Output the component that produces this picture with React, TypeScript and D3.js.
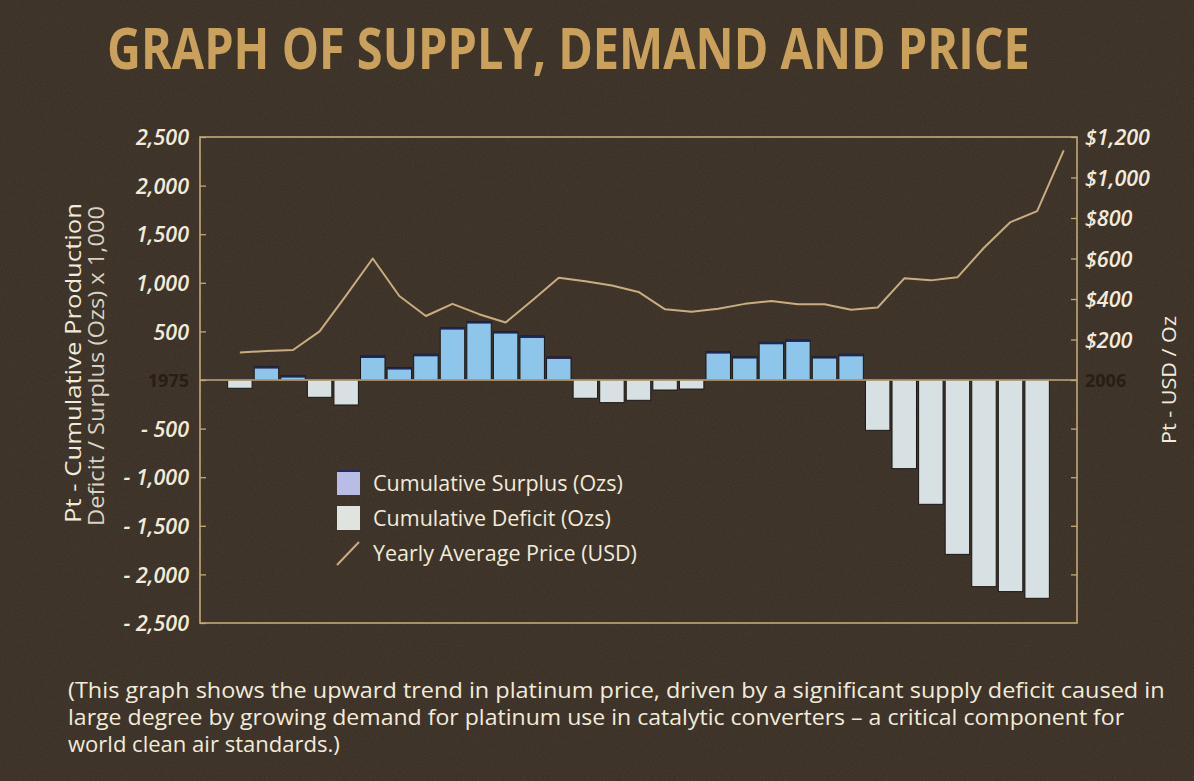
import { useEffect, useRef } from "react";
import * as d3 from "d3";

// years on the price line (bars stop one year earlier)
const years = [
  1975, 1976, 1977, 1978, 1979, 1980, 1981, 1982, 1983, 1984, 1985, 1986, 1987, 1988, 1989, 1990,
  1991, 1992, 1993, 1994, 1995, 1996, 1997, 1998, 1999, 2000, 2001, 2002, 2003, 2004, 2005, 2006,
];
const barYears = years.slice(0, 31);

// cumulative surplus (+) / deficit (-), ozs x 1,000
const balance = [
  -85, 138, 45, -178, -257, 247, 128, 264, 539, 601, 498, 453, 237, -188, -233, -209,
  -103, -93, 292, 241, 388, 412, 241, 264, -518, -912, -1279, -1794, -2126, -2177, -2246,
];

// yearly average price, USD / oz
const price = [
  136, 143, 148, 240, 418, 600, 415, 316, 376, 325, 284, 393, 505, 488, 467, 435,
  349, 337, 352, 376, 390, 374, 374, 347, 358, 502, 492, 507, 653, 780, 834, 1134,
];

const leftTicks = [2500, 2000, 1500, 1000, 500, 0, -500, -1000, -1500, -2000, -2500];
const priceTicks = [1200, 1000, 800, 600, 400, 200, 0];
const rightLowTicks = [-500, -1000, -1500, -2000];

const legendLabels = [
  "Cumulative Surplus (Ozs)",
  "Cumulative Deficit (Ozs)",
  "Yearly Average Price (USD)",
];

const captionLines = [
  "(This graph shows the upward trend in platinum price, driven by a significant supply deficit caused in",
  "large degree by growing demand for platinum use in catalytic converters \u2013 a critical component for",
  "world clean air standards.)",
];

const W = 1194;
const H = 781;
const box = { left: 200, right: 1077, top: 137, bottom: 623 };

const BG = "#392e23";
const FRAME = "#c4a878";
const CREAM = "#f2ebda";
const FONT = "'Open Sans', 'Noto Sans', sans-serif";

// squeeze a text horizontally to a given width without touching its height
function fitWidth(sel: d3.Selection<SVGTextElement, unknown, null, undefined>, x: number, y: number, w: number) {
  const n = sel.node()!.getComputedTextLength();
  sel.attr("x", 0).attr("y", 0).attr("transform", `translate(${x},${y}) scale(${w / n},1)`);
}

export default function App() {
  const ref = useRef<SVGSVGElement>(null);

  useEffect(() => {
    document.body.style.margin = "0";
    document.body.style.background = BG;

    const svg = d3.select(ref.current);
    svg.selectAll("*").remove();

    // paper grain
    const defs = svg.append("defs");
    const grain = defs
      .append("filter")
      .attr("id", "grain")
      .attr("x", 0)
      .attr("y", 0)
      .attr("width", "100%")
      .attr("height", "100%");
    grain
      .append("feTurbulence")
      .attr("type", "fractalNoise")
      .attr("baseFrequency", 0.9)
      .attr("numOctaves", 2)
      .attr("seed", 4);
    grain.append("feColorMatrix").attr("type", "saturate").attr("values", 0);

    svg.append("rect").attr("width", W).attr("height", H).attr("fill", BG);
    svg
      .append("rect")
      .attr("width", W)
      .attr("height", H)
      .attr("filter", "url(#grain)")
      .attr("opacity", 0.09);

    // scales
    const step = (box.right - box.left) / 33;
    const x = d3
      .scaleBand<number>()
      .domain(years)
      .range([box.left + step, box.right])
      .paddingInner(0.08)
      .paddingOuter(0.04);
    const bw = x.bandwidth();
    const y = d3.scaleLinear().domain([-2500, 2500]).range([box.bottom, box.top]);
    const yP = d3.scaleLinear().domain([0, 1200]).range([y(0), box.top]);

    // bars
    const bars = barYears.map((yr, i) => ({ yr, v: balance[i] }));
    const g = svg.append("g");
    g.selectAll("rect.bar")
      .data(bars)
      .join("rect")
      .attr("class", "bar")
      .attr("x", (d) => x(d.yr)!)
      .attr("width", bw)
      .attr("y", (d) => y(Math.max(0, d.v)))
      .attr("height", (d) => Math.abs(y(d.v) - y(0)))
      .attr("fill", (d) => (d.v >= 0 ? "#8ec5ea" : "#d7e0e2"))
      .attr("stroke", "#1c1714")
      .attr("stroke-width", 1);

    g.selectAll("line.cap")
      .data(bars.filter((d) => d.v > 0))
      .join("line")
      .attr("class", "cap")
      .attr("x1", (d) => x(d.yr)!)
      .attr("x2", (d) => x(d.yr)! + bw)
      .attr("y1", (d) => y(d.v) + 1)
      .attr("y2", (d) => y(d.v) + 1)
      .attr("stroke", "#1d2656")
      .attr("stroke-width", 2);

    // frame + zero line
    svg
      .append("rect")
      .attr("x", box.left)
      .attr("y", box.top)
      .attr("width", box.right - box.left)
      .attr("height", box.bottom - box.top)
      .attr("fill", "none")
      .attr("stroke", FRAME)
      .attr("stroke-width", 1.6);
    svg
      .append("line")
      .attr("x1", box.left)
      .attr("x2", box.right)
      .attr("y1", y(0))
      .attr("y2", y(0))
      .attr("stroke", FRAME)
      .attr("stroke-width", 1.6);

    // price line
    const line = d3
      .line<number>()
      .x((_, i) => x(years[i])! + bw / 2)
      .y((d) => yP(d));
    svg
      .append("path")
      .datum(price)
      .attr("d", line)
      .attr("fill", "none")
      .attr("stroke", "#c9ad80")
      .attr("stroke-width", 2)
      .attr("stroke-linejoin", "round");

    // axes
    const fmt = d3.format(",");
    const left = svg
      .append("g")
      .attr("transform", `translate(${box.left},0)`)
      .call(
        d3
          .axisLeft(y)
          .tickValues(leftTicks)
          .tickSizeInner(-6)
          .tickSizeOuter(0)
          .tickPadding(11)
          .tickFormat((d) => {
            const v = +d;
            if (v === 0) return "1975";
            return v < 0 ? "- " + fmt(-v) : fmt(v);
          })
      );
    const right = svg
      .append("g")
      .attr("transform", `translate(${box.right},0)`)
      .call(
        d3
          .axisRight(yP)
          .tickValues(priceTicks)
          .tickSizeInner(-6)
          .tickSizeOuter(0)
          .tickPadding(8)
          .tickFormat((d) => (+d === 0 ? "2006" : "$" + fmt(+d)))
      );
    const rightLow = svg
      .append("g")
      .attr("transform", `translate(${box.right},0)`)
      .call(d3.axisRight(y).tickValues(rightLowTicks).tickSizeInner(-6).tickSizeOuter(0).tickFormat(() => ""));

    [left, right, rightLow].forEach((a) => {
      a.select(".domain").remove();
      a.selectAll(".tick line").attr("stroke", FRAME).attr("stroke-width", 1.3);
      a.selectAll(".tick text")
        .attr("fill", CREAM)
        .attr("font-family", FONT)
        .attr("font-size", 21.5)
        .attr("font-style", "italic")
        .attr("font-weight", 600)
        .attr("dy", "0.36em");
    });
    [left, right].forEach((a) => {
      a.selectAll<SVGGElement, number>(".tick")
        .filter((d) => +d === 0)
        .select("text")
        .attr("fill", "#271e16")
        .attr("font-style", "normal")
        .attr("font-weight", 700)
        .attr("font-size", 18);
    });

    // axis titles
    const yMid = (box.top + box.bottom) / 2 - 17;
    svg
      .append("text")
      .attr("transform", `translate(81,${yMid}) rotate(-90)`)
      .attr("text-anchor", "middle")
      .attr("font-family", FONT)
      .attr("font-size", 21)
      .attr("fill", CREAM)
      .attr("textLength", 320)
      .attr("lengthAdjust", "spacingAndGlyphs")
      .text("Pt - Cumulative Production");
    svg
      .append("text")
      .attr("transform", `translate(104,${yMid + 3}) rotate(-90)`)
      .attr("text-anchor", "middle")
      .attr("font-family", FONT)
      .attr("font-size", 21)
      .attr("fill", "#d9d2c2")
      .attr("textLength", 320)
      .attr("lengthAdjust", "spacingAndGlyphs")
      .text("Deficit / Surplus (Ozs) x 1,000");
    svg
      .append("text")
      .attr("transform", `translate(1176,${y(0)}) rotate(-90)`)
      .attr("text-anchor", "middle")
      .attr("font-family", FONT)
      .attr("font-size", 20)
      .attr("fill", CREAM)
      .attr("textLength", 128)
      .attr("lengthAdjust", "spacingAndGlyphs")
      .text("Pt - USD / Oz");

    // legend
    const lg = svg.append("g").attr("transform", "translate(337,470)");
    const rowH = 35;
    legendLabels.forEach((lab, i) => {
      const row = lg.append("g").attr("transform", `translate(0,${i * rowH})`);
      if (i === 0) {
        row.append("rect").attr("width", 23).attr("height", 25).attr("fill", "#b9bde6");
        row
          .append("line")
          .attr("x1", 0)
          .attr("x2", 23)
          .attr("y1", 1)
          .attr("y2", 1)
          .attr("stroke", "#2a2a5a")
          .attr("stroke-width", 2);
      } else if (i === 1) {
        row.append("rect").attr("y", 1).attr("width", 23).attr("height", 24).attr("fill", "#dfe4e0");
      } else {
        row
          .append("line")
          .attr("x1", 0)
          .attr("y1", 25)
          .attr("x2", 22)
          .attr("y2", 2)
          .attr("stroke", "#c9ad80")
          .attr("stroke-width", 2);
      }
      row
        .append("text")
        .attr("x", 36)
        .attr("y", 21)
        .attr("font-family", FONT)
        .attr("font-size", 21.5)
        .attr("fill", CREAM)
        .text(lab);
    });

    // title
    const title = svg
      .append("text")
      .attr("font-family", FONT)
      .attr("font-size", 58)
      .attr("font-weight", 700)
      .attr("fill", "#c9a15d")
      .text("GRAPH OF SUPPLY, DEMAND AND PRICE");
    fitWidth(title, 107, 69, 923);

    // caption
    const capLen = [1097, 1057, 272];
    captionLines.forEach((t, i) => {
      const c = svg
        .append("text")
        .attr("font-family", FONT)
        .attr("font-size", 21)
        .attr("fill", CREAM)
        .text(t);
      fitWidth(c, 68, 698 + i * 27, capLen[i]);
    });
  }, []);

  return <svg ref={ref} width={W} height={H} style={{ display: "block" }} />;
}
